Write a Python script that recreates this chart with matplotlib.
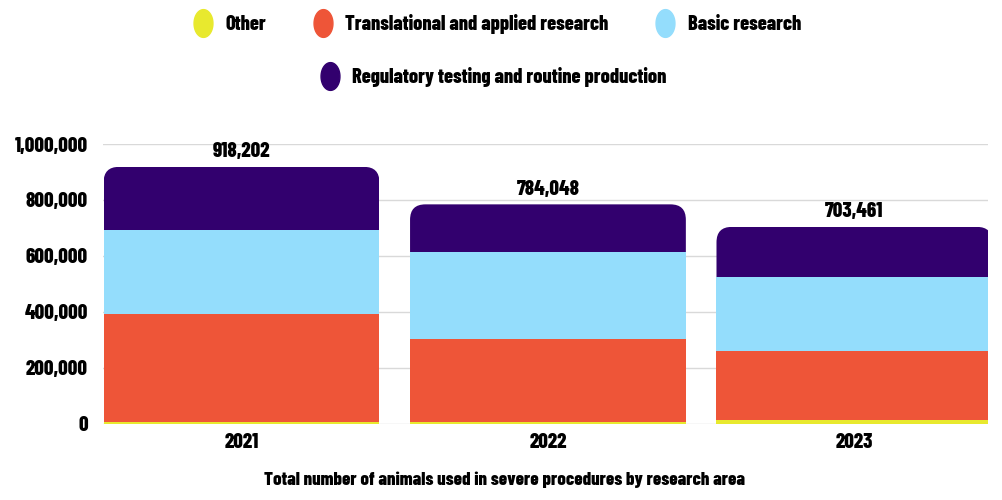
import numpy as np
import matplotlib
matplotlib.use("Agg")
import matplotlib.pyplot as plt
import matplotlib.ticker as mtick
from matplotlib import font_manager as fm
from matplotlib.patches import FancyBboxPatch
from matplotlib.lines import Line2D
from matplotlib.path import Path

# pick a condensed bold font if one is around
have = {f.name for f in fm.fontManager.ttflist}
fams = [f for f in ["Barlow Condensed", "Roboto Condensed", "Archivo Narrow", "Saira SemiCondensed"] if f in have]
plt.rcParams["font.family"] = fams[:1] + ["DejaVu Sans"]
plt.rcParams["font.weight"] = "heavy"

years = ["2021", "2022", "2023"]
other = [5000, 4000, 14000]
translational = [387000, 298000, 246000]
basic = [300000, 310000, 265000]
regulatory = [226202, 172048, 178461]

series = [
    ("Other", other, "#E8E92E"),
    ("Translational and applied research", translational, "#EE5538"),
    ("Basic research", basic, "#94DDFC"),
    ("Regulatory testing and routine production", regulatory, "#32006E"),
]

fig = plt.figure(figsize=(10.02, 5.0), dpi=100)
ax = fig.add_axes([103 / 1002, (500 - 423.5) / 500, (988 - 103) / 1002, (423.5 - 144) / 500])

x = np.arange(len(years))
width = 0.9
bottom = np.zeros(len(years))
totals = np.sum([s[1] for s in series], axis=0)

ax.set_xlim(-0.452, 2.436)
ax.set_ylim(0, 1000000)

for name, vals, color in series:
    bars = ax.bar(x, vals, width, bottom=bottom, color=color, zorder=3)
    bottom += np.array(vals)

# round the top corners of the last (top) segment
r = 0.05
aspect = 55000 / r
for rect, tot in zip(bars.patches, totals):
    clip = FancyBboxPatch((rect.get_x(), 0), rect.get_width(), tot,
                          boxstyle="round,pad=0,rounding_size=%f" % r,
                          mutation_aspect=aspect, transform=ax.transData,
                          facecolor="none", edgecolor="none")
    ax.add_patch(clip)
    rect.set_clip_path(clip)

for xi, tot in zip(x, totals):
    ax.text(xi, tot + 20000, "{:,}".format(int(tot)), ha="center", va="bottom",
            fontsize=15, clip_on=False)

ax.yaxis.set_major_locator(mtick.MultipleLocator(200000))
ax.yaxis.set_major_formatter(mtick.FuncFormatter(lambda v, p: "{:,}".format(int(v))))
ax.grid(axis="y", color="#d9d9d9", linewidth=1, zorder=0)
ax.set_axisbelow(True)
for s in ax.spines.values():
    s.set_visible(False)
ax.tick_params(axis="both", length=0, labelsize=15)
ax.tick_params(axis="y", pad=11)
ax.tick_params(axis="x", pad=7)
ax.set_xticks(x, years)

fig.text(505 / 1002, 1 - 480 / 500,
         "Total number of animals used in severe procedures by research area",
         ha="center", va="center", fontsize=13.5)

# tall oval legend markers
t = np.linspace(0, 2 * np.pi, 60)
oval = Path(np.column_stack([0.68 * np.cos(t), np.sin(t)]))
handles = [Line2D([], [], marker=oval, linestyle="", markersize=20, color=c, label=n)
           for n, v, c in series]
fig.legend(handles=handles[:3], loc="center", bbox_to_anchor=(497 / 1002, 1 - 24 / 500),
           ncol=3, frameon=False, fontsize=14.6, handlelength=1.0, handletextpad=0.6,
           columnspacing=2.3)
fig.legend(handles=handles[3:], loc="center", bbox_to_anchor=(493 / 1002, 1 - 77 / 500),
           ncol=1, frameon=False, fontsize=14.6, handlelength=1.0, handletextpad=0.6)

fig.savefig("out.png", dpi=100)
